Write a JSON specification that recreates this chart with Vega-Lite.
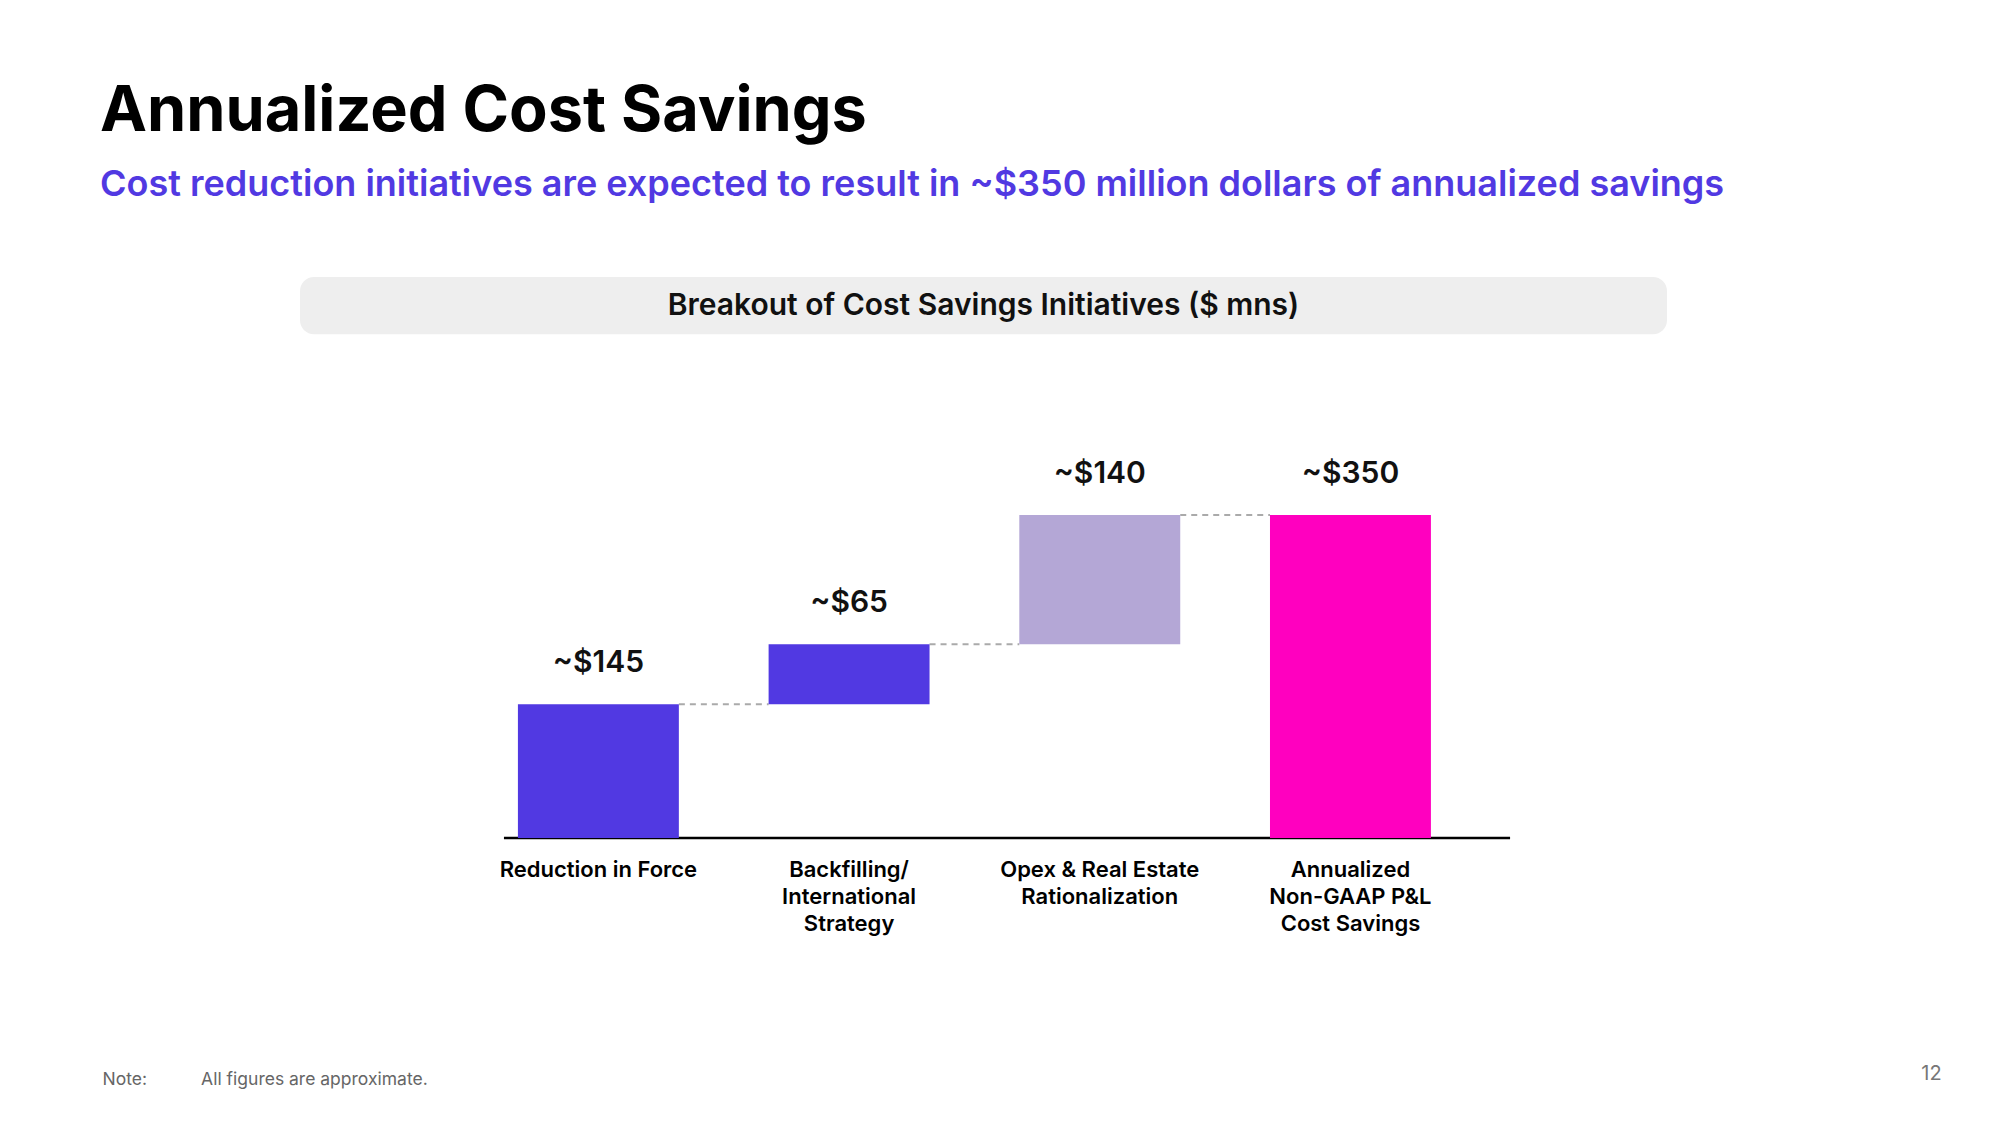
{
  "$schema": "https://vega.github.io/schema/vega-lite/v6.json",
  "width": 1367,
  "height": 561,
  "autosize": "none",
  "padding": {"left": 300, "top": 277, "right": 333, "bottom": 287},
  "background": "white",
  "config": {"view": {"stroke": null}, "font": "Inter"},
  "title": {
    "text": "Annualized Cost Savings",
    "subtitle": "Cost reduction initiatives are expected to result in ~$350 million dollars of annualized savings",
    "anchor": "start",
    "frame": "group",
    "dx": -200,
    "offset": 74,
    "font": "Inter",
    "fontSize": 63,
    "fontWeight": 700,
    "color": "#000000",
    "subtitleFont": "Inter",
    "subtitleFontSize": 36,
    "subtitleFontWeight": 600,
    "subtitleColor": "#5139E2",
    "subtitlePadding": 24
  },
  "datasets": {
    "bars": [
      {"step": "Reduction in Force", "start": 0, "end": 145, "label": "~$145"},
      {"step": "Backfilling/\nInternational\nStrategy", "start": 145, "end": 210, "label": "~$65"},
      {"step": "Opex & Real Estate\nRationalization", "start": 210, "end": 350, "label": "~$140"},
      {"step": "Annualized\nNon-GAAP P&L\nCost Savings", "start": 0, "end": 350, "label": "~$350"}
    ],
    "connectors": [
      {"from": "Reduction in Force", "to": "Backfilling/\nInternational\nStrategy", "level": 145},
      {"from": "Backfilling/\nInternational\nStrategy", "to": "Opex & Real Estate\nRationalization", "level": 210},
      {"from": "Opex & Real Estate\nRationalization", "to": "Annualized\nNon-GAAP P&L\nCost Savings", "level": 350}
    ],
    "header": [
      {"text": "Breakout of Cost Savings Initiatives ($ mns)"}
    ]
  },
  "resolve": {"scale": {"x": "independent"}},
  "layer": [
    {
      "data": {"name": "header"},
      "layer": [
        {
          "mark": {"type": "rect", "cornerRadius": 14, "fill": "#EEEEEE"},
          "encoding": {
            "x": {
              "datum": 0,
              "type": "quantitative",
              "scale": {"domain": [0, 1], "nice": false, "zero": false},
              "axis": {
                "orient": "top",
                "title": "12",
                "domain": false,
                "ticks": false,
                "labels": false,
                "grid": false,
                "titleAnchor": "start",
                "titleAlign": "center",
                "titleBaseline": "middle",
                "titleX": 1631,
                "titleY": 796,
                "titleFont": "Inter",
                "titleFontSize": 20,
                "titleFontWeight": "normal",
                "titleColor": "#777777"
              }
            },
            "x2": {"datum": 1},
            "y": {"datum": 608, "type": "quantitative", "scale": {"domain": [0, 608], "nice": false}, "axis": null},
            "y2": {"datum": 546}
          }
        },
        {
          "mark": {"type": "text", "fontSize": 30, "fontWeight": 600, "color": "#111111", "baseline": "middle", "align": "center"},
          "encoding": {
            "x": {"datum": 0.5, "type": "quantitative", "scale": {"domain": [0, 1], "nice": false, "zero": false}},
            "y": {"datum": 577, "type": "quantitative", "scale": {"domain": [0, 608], "nice": false}, "axis": null},
            "text": {"field": "text"}
          }
        },
        {
          "mark": {"type": "rule", "color": "#000000", "strokeWidth": 2.5},
          "encoding": {
            "x": {"datum": 0.1492, "type": "quantitative", "scale": {"domain": [0, 1], "nice": false, "zero": false}},
            "x2": {"datum": 0.8852},
            "y": {"datum": 0, "type": "quantitative", "scale": {"domain": [0, 608], "nice": false}, "axis": null}
          }
        }
      ]
    },
    {
      "layer": [
        {
          "data": {"name": "connectors"},
          "mark": {"type": "rule", "strokeDash": [6, 5], "color": "#AAAAAA", "strokeWidth": 2},
          "encoding": {
            "x": {"field": "from", "type": "nominal", "bandPosition": 1, "scale": {"domain": ["Reduction in Force", "Backfilling/\nInternational\nStrategy", "Opex & Real Estate\nRationalization", "Annualized\nNon-GAAP P&L\nCost Savings"]}},
            "x2": {"field": "to", "bandPosition": 0},
            "y": {"field": "level", "type": "quantitative", "scale": {"domain": [0, 608], "nice": false}, "axis": null}
          }
        },
        {
          "data": {"name": "bars"},
          "mark": {"type": "bar"},
          "encoding": {
            "x": {
              "field": "step",
              "type": "nominal",
              "scale": {"domain": ["Reduction in Force", "Backfilling/\nInternational\nStrategy", "Opex & Real Estate\nRationalization", "Annualized\nNon-GAAP P&L\nCost Savings"], "paddingInner": 0.358, "paddingOuter": 0.9055, "align": 0.48},
              "axis": {
                "title": "Note:\u00a0\u00a0\u00a0\u00a0\u00a0\u00a0\u00a0\u00a0\u00a0\u00a0\u00a0All figures are approximate.",
                "domain": false,
                "ticks": false,
                "labelAngle": 0,
                "labelAlign": "center",
                "labelExpr": "split(datum.label, '\\n')",
                "labelFont": "Inter",
                "labelFontSize": 22,
                "labelFontWeight": 600,
                "labelColor": "#000000",
                "labelLineHeight": 27,
                "labelPadding": 21,
                "labelBaseline": "top",
                "labelLimit": 0,
                "titleAnchor": "start",
                "titleAlign": "left",
                "titleX": -198,
                "titleY": 241,
                "titleBaseline": "middle",
                "titleFont": "Inter",
                "titleFontSize": 17.5,
                "titleFontWeight": "normal",
                "titleColor": "#666666"
              }
            },
            "y": {"field": "end", "type": "quantitative", "scale": {"domain": [0, 608], "nice": false}, "axis": null},
            "y2": {"field": "start"},
            "color": {
              "field": "step",
              "type": "nominal",
              "scale": {"domain": ["Reduction in Force", "Backfilling/\nInternational\nStrategy", "Opex & Real Estate\nRationalization", "Annualized\nNon-GAAP P&L\nCost Savings"], "range": ["#5139E2", "#5139E2", "#B4A7D6", "#FF00BF"]},
              "legend": null
            }
          }
        },
        {
          "data": {"name": "bars"},
          "mark": {"type": "text", "fontSize": 30, "fontWeight": 600, "color": "#111111", "baseline": "middle", "dy": -41},
          "encoding": {
            "x": {"field": "step", "type": "nominal", "scale": {"domain": ["Reduction in Force", "Backfilling/\nInternational\nStrategy", "Opex & Real Estate\nRationalization", "Annualized\nNon-GAAP P&L\nCost Savings"]}},
            "y": {"field": "end", "type": "quantitative", "scale": {"domain": [0, 608], "nice": false}, "axis": null},
            "text": {"field": "label"}
          }
        }
      ]
    }
  ]
}
